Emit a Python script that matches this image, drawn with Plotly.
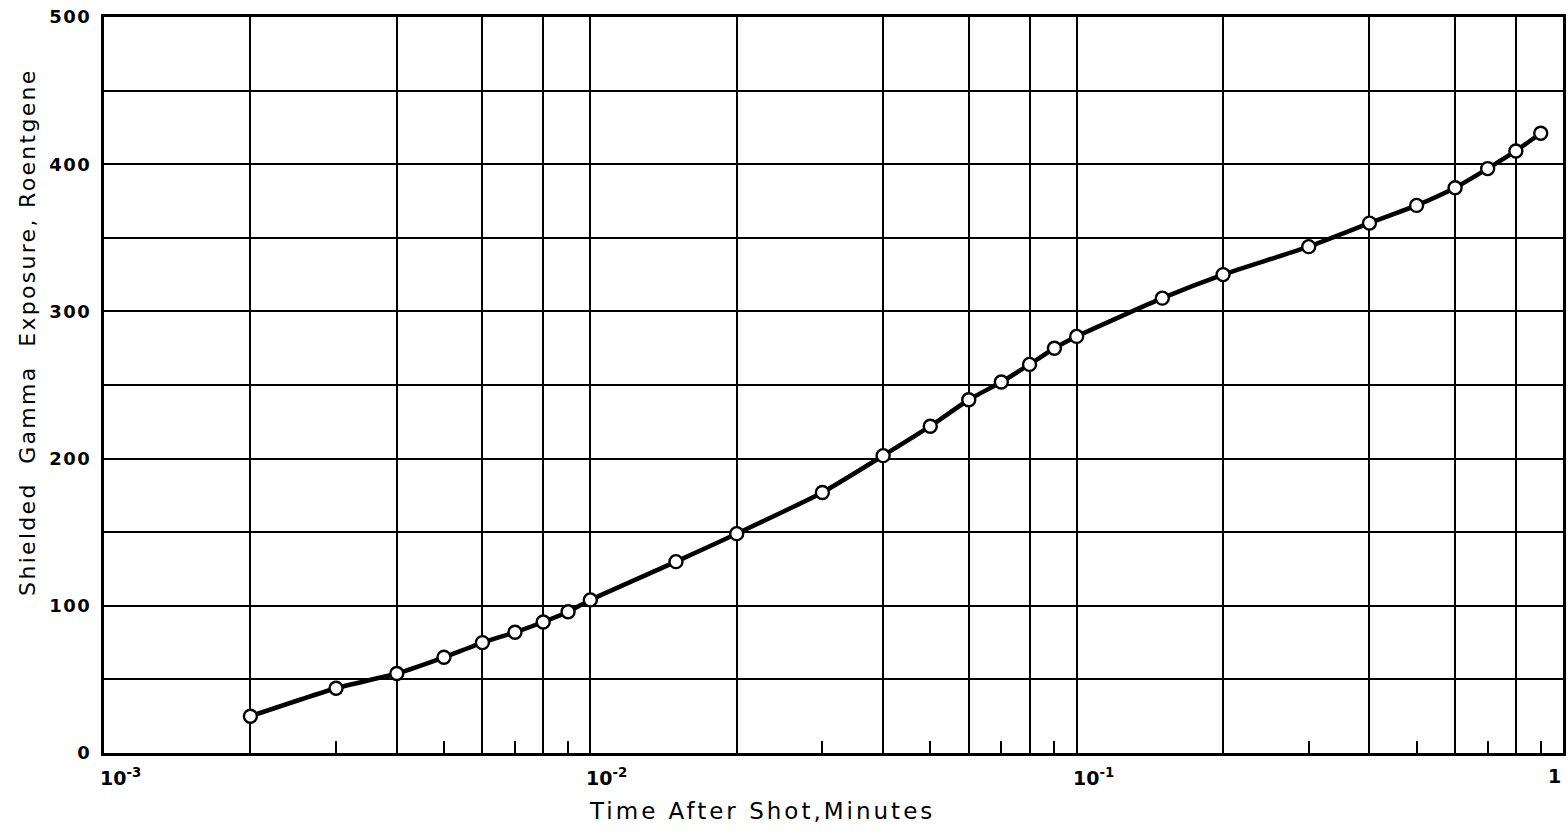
import math
import plotly.graph_objects as go

# Data
time_min = [0.002, 0.003, 0.004, 0.005, 0.006, 0.007, 0.008, 0.009, 0.01,
            0.015, 0.02, 0.03, 0.04, 0.05, 0.06, 0.07, 0.08, 0.09, 0.1,
            0.15, 0.2, 0.3, 0.4, 0.5, 0.6, 0.7, 0.8, 0.9]
exposure = [25, 44, 54, 65, 75, 82, 89, 96, 104,
            130, 149, 177, 202, 222, 240, 252, 264, 275, 283,
            309, 325, 344, 360, 372, 384, 397, 409, 421]

x_grid_vals = [0.001, 0.002, 0.004, 0.006, 0.008,
               0.01, 0.02, 0.04, 0.06, 0.08,
               0.1, 0.2, 0.4, 0.6, 0.8, 1.0]
x_minor_vals = [0.003, 0.005, 0.007, 0.009,
                0.03, 0.05, 0.07, 0.09,
                0.3, 0.5, 0.7, 0.9]
x_label_vals = [0.001, 0.01, 0.1, 1.0]
x_label_text = ["10<sup>-3</sup>", "10<sup>-2</sup>", "10<sup>-1</sup>", "1"]

y_grid_vals = list(range(0, 501, 50))
y_tick_text = [str(v) if v % 100 == 0 else "" for v in y_grid_vals]

x_title = "Time After Shot,Minutes"
y_title = "Shielded  Gamma  Exposure, Roentgene"

FONT = "DejaVu Sans"


def spaced(text, px):
    return '<span style="letter-spacing:%spx">%s</span>' % (px, text)


fig = go.Figure()
fig.add_trace(go.Scatter(
    x=time_min, y=exposure,
    mode="lines+markers",
    line=dict(color="black", width=4.5, shape="spline", smoothing=0.5),
    marker=dict(symbol="circle", size=13, color="white",
                line=dict(color="black", width=2.4)),
    showlegend=False,
))

fig.update_xaxes(
    type="log", range=[-3, 0], automargin=False,
    tickmode="array", tickvals=x_grid_vals, showticklabels=False,
    ticks="", showgrid=True, gridcolor="black", gridwidth=2,
    showline=True, linecolor="black", linewidth=3, mirror=True,
    minor=dict(tickvals=x_minor_vals, ticks="inside", ticklen=12,
               tickwidth=2, tickcolor="black", showgrid=False),
    zeroline=False,
)
fig.update_yaxes(
    range=[0, 500], automargin=False,
    tickmode="array", tickvals=y_grid_vals,
    ticktext=[spaced(t, 1.5) if t else "" for t in y_tick_text],
    ticks="", ticklabelstandoff=6, ticklabeloverflow="allow",
    tickfont=dict(family=FONT, size=18, color="black", weight="bold"),
    showgrid=True, gridcolor="black", gridwidth=2,
    showline=True, linecolor="black", linewidth=3, mirror=True,
    zeroline=False,
)

for v, t in zip(x_label_vals, x_label_text):
    last = (v == x_label_vals[-1])
    fig.add_annotation(
        x=math.log10(v), y=0, xref="x", yref="y",
        text=t, showarrow=False,
        xanchor="right" if last else "left", yanchor="top",
        xshift=0 if last else -6, yshift=-10,
        font=dict(family=FONT, size=19, color="black", weight="bold"),
    )

fig.add_annotation(
    x=0.451, y=-0.058, xref="paper", yref="paper",
    text=spaced(x_title, 3), showarrow=False, xanchor="center", yanchor="top",
    font=dict(family=FONT, size=23, color="black"),
)
fig.add_annotation(
    x=-0.052, y=0.571, xref="paper", yref="paper",
    text=spaced(y_title, 2.3), showarrow=False, textangle=-90,
    xanchor="center", yanchor="middle",
    font=dict(family=FONT, size=22, color="black"),
)

fig.update_layout(
    width=1568, height=831,
    margin=dict(l=104, r=5, t=17, b=78),
    paper_bgcolor="white", plot_bgcolor="white",
)

fig.write_html(
    "out.html",
    config={"displayModeBar": False},
    post_script="document.body.style.margin='0';document.body.style.overflow='hidden';",
)
